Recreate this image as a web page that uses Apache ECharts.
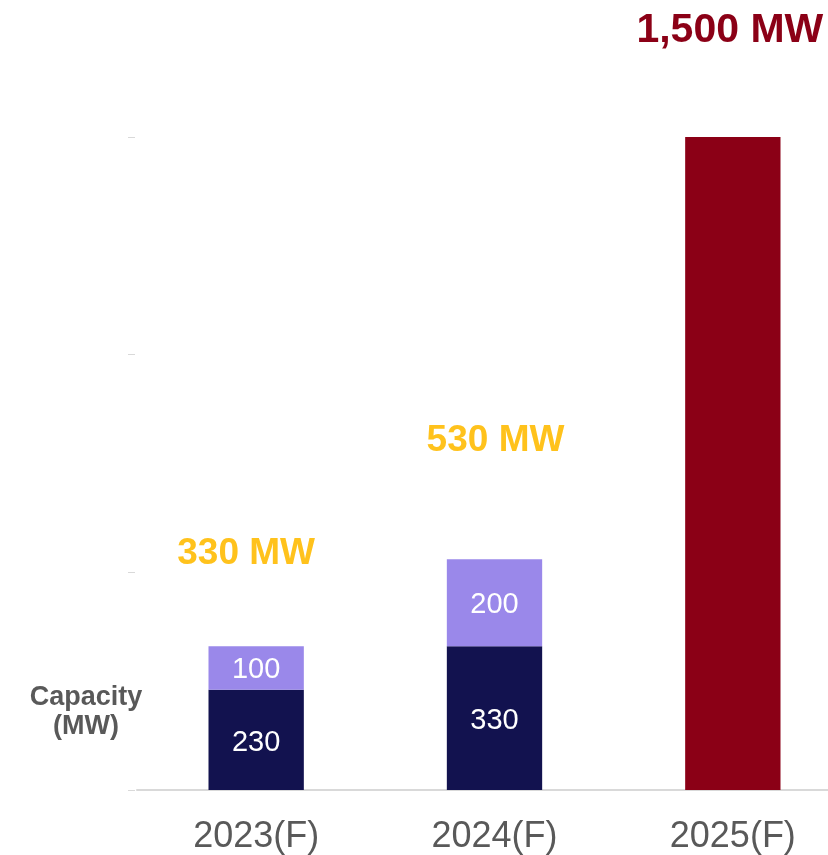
<!DOCTYPE html>
<html>
<head>
	<meta charset="utf-8">
	<title>Capacity</title>
	<style type="text/css">
		*{
			padding: 0;
			margin: 0;
		}
		html, body{
			background: #fff;
			overflow: hidden;
		}
		/* the plot runs a little past the right edge of the picture, so the canvas is wider than the window */
		#chart{
			width: 852px;
			height: 855px;
		}
	</style>
</head>
<body>
	<div id="chart"></div>

<script type="text/javascript" src="https://cdn.jsdelivr.net/npm/echarts@6/dist/echarts.min.js"></script>
<script type="text/javascript">
	var categories = ['2023(F)', '2024(F)', '2025(F)'];
	var baseMW = [230, 330, '-'];        // dark navy part
	var addedMW = [100, 200, '-'];       // lavender part on top
	var targetMW = ['-', '-', 1500];     // dark red bar
	var totalMW = [330, 530, 1500];      // labels above bars
	var yTicks = [0, 500, 1000, 1500];

	var font = 'Arial, "Liberation Sans", sans-serif';
	var totalColors = ['#FFC21C', '#FFC21C', '#8B0016'];
	var totalSizes = [37, 37, 41];
	var totalOffsets = [[-10, -93], [1, -118], [-3, -106]];

	var charts = echarts.init(document.getElementById('chart'));
	var option = {
		animation: false,
		grid: {
			top: 137,
			left: 137,
			right: 0,
			bottom: 64,
			containLabel: false
		},
		graphic: [{
			type: 'text',
			x: 86,
			y: 712,
			style: {
				text: 'Capacity\n(MW)',
				font: 'bold 27px ' + font,
				fill: '#595959',
				align: 'center',
				verticalAlign: 'middle',
				lineHeight: 29
			}
		}],
		xAxis: {
			type: 'category',
			data: categories,
			axisLine: {
				show: true,
				lineStyle: { color: '#d9d9d9', width: 2 }
			},
			axisTick: { show: false },
			axisLabel: {
				color: '#595959',
				fontSize: 36,
				fontFamily: font,
				margin: 29
			}
		},
		yAxis: {
			type: 'value',
			min: yTicks[0],
			max: yTicks[yTicks.length - 1],
			interval: yTicks[1] - yTicks[0],
			offset: 2,
			axisLine: { show: false },
			axisTick: {
				show: true,
				length: 7,
				lineStyle: { color: '#d9d9d9', width: 1 }
			},
			axisLabel: { show: false },
			splitLine: { show: false }
		},
		series: [{
			type: 'bar',
			name: 'base',
			stack: 'cap',
			barWidth: '40%',
			itemStyle: { color: '#12124F' },
			label: {
				show: true,
				position: 'inside',
				offset: [0, 3],
				color: '#fff',
				fontSize: 29,
				fontFamily: font
			},
			data: baseMW
		}, {
			type: 'bar',
			name: 'added',
			stack: 'cap',
			barWidth: '40%',
			itemStyle: { color: '#9A88EA' },
			label: {
				show: true,
				position: 'inside',
				offset: [0, 2],
				color: '#fff',
				fontSize: 29,
				fontFamily: font
			},
			data: addedMW
		}, {
			type: 'bar',
			name: 'target',
			stack: 'cap',
			barWidth: '40%',
			itemStyle: { color: '#8B0016' },
			data: targetMW
		}, {
			type: 'scatter',
			name: 'total',
			symbolSize: 1,
			itemStyle: { color: 'rgba(0,0,0,0)', opacity: 1 },
			silent: true,
			data: totalMW.map(function (v, i) {
				return {
					value: v,
					label: {
						show: true,
						position: 'inside',
						offset: totalOffsets[i],
						color: totalColors[i],
						fontSize: totalSizes[i],
						fontWeight: 'bold',
						fontFamily: font,
						formatter: function (p) {
							return p.value.toLocaleString('en-US') + ' MW';
						}
					}
				};
			})
		}]
	};
	charts.setOption(option);
</script>
</body>
</html>
